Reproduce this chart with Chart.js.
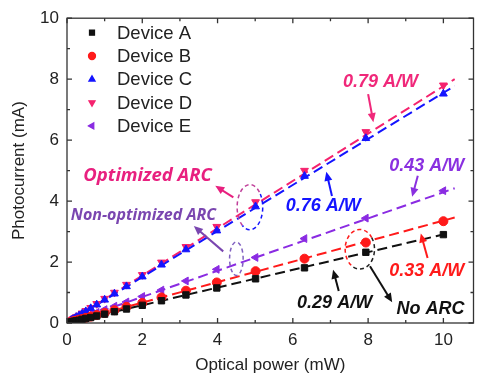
<!DOCTYPE html>
<html>
<head>
<meta charset="utf-8">
<script src="https://cdn.jsdelivr.net/npm/chart.js@4.4.0/dist/chart.umd.min.js"></script>
<style>
  html, body { margin: 0; padding: 0; background: #fff; }
</style>
</head>
<body>
<canvas id="chart" width="479" height="383"></canvas>
<script>
// measured optical powers (mW), log spaced
const powerMW = [0.1, 0.13, 0.16, 0.2, 0.25, 0.32, 0.4, 0.5, 0.63, 0.79, 1.0, 1.26, 1.58, 2.0, 2.51, 3.16, 3.98, 5.01, 6.31, 7.94, 10];

// photocurrent (mA) per device
const deviceA = [0.03, 0.04, 0.05, 0.06, 0.07, 0.09, 0.12, 0.15, 0.18, 0.23, 0.29, 0.37, 0.46, 0.58, 0.73, 0.92, 1.15, 1.45, 1.81, 2.32, 2.90];
const deviceB = [0.03, 0.04, 0.05, 0.07, 0.08, 0.11, 0.13, 0.17, 0.21, 0.26, 0.33, 0.42, 0.53, 0.66, 0.84, 1.06, 1.33, 1.70, 2.11, 2.64, 3.34];
const deviceC = [0.08, 0.10, 0.12, 0.15, 0.19, 0.24, 0.30, 0.38, 0.48, 0.60, 0.76, 0.96, 1.20, 1.52, 1.91, 2.41, 3.03, 3.82, 4.82, 6.06, 7.52];
const deviceD = [0.08, 0.10, 0.13, 0.16, 0.20, 0.25, 0.32, 0.40, 0.50, 0.63, 0.80, 1.00, 1.26, 1.58, 1.99, 2.50, 3.16, 3.97, 5.00, 6.27, 7.80];
const deviceE = [0.04, 0.06, 0.07, 0.09, 0.11, 0.14, 0.18, 0.22, 0.27, 0.35, 0.44, 0.55, 0.69, 0.87, 1.08, 1.38, 1.76, 2.15, 2.77, 3.44, 4.34];

// linear fits (end points)
const fitPower = [0.1, 10.3];
const fitPowerA = [0.1, 10.05];
const fitA = [0.03, 2.92];
const fitB = [0.03, 3.46];
const fitC = [0.07, 7.78];
const fitD = [0.08, 8.0];
const fitE = [0.04, 4.42];

const labels = ["Device A", "Device B", "Device C", "Device D", "Device E"];
const xTicks = [0, 2, 4, 6, 8, 10];
const yTicks = [0, 2, 4, 6, 8, 10];

const colA = "#111111", colB = "#ff1a1a", colC = "#1414ff", colD = "#f5226e", colE = "#8a2be2";
const FONT = "'Liberation Sans', Arial, sans-serif";
const NOTE = "'Open Sans', sans-serif";

function pts(xs, ys) { return xs.map((x, i) => ({ x: x, y: ys[i] })); }

function markerSet(label, ys, color, style, rot) {
    return {
        label: label, data: pts(powerMW, ys), showLine: false,
        pointStyle: style, rotation: rot, pointRadius: 4.5, pointHoverRadius: 4.5,
        backgroundColor: color, borderColor: color, borderWidth: 1, order: 1
    };
}
function fitSet(xs, ys, color) {
    return {
        label: "fit", data: pts(xs, ys), showLine: true, pointRadius: 0,
        borderColor: color, borderWidth: 2, borderDash: [10, 5], fill: false, order: 2
    };
}

const markers = [
    markerSet(labels[0], deviceA, colA, "rect", 0),
    markerSet(labels[1], deviceB, colB, "circle", 0),
    markerSet(labels[2], deviceC, colC, "triangle", 0),
    markerSet(labels[3], deviceD, colD, "triangle", 180),
    markerSet(labels[4], deviceE, colE, "triangle", -90)
];
const fits = [
    fitSet(fitPowerA, fitA, colA),
    fitSet(fitPower, fitB, colB),
    fitSet(fitPower, fitE, colE),
    fitSet(fitPower, fitC, colC),
    fitSet(fitPower, fitD, colD)
];

// annotations in data units
const notes = [
    { t: "0.79 A/W", x: 8.33, y: 7.92, c: "#f0287a", f: "italic bold 18px " + FONT },
    { t: "Optimized ARC", x: 2.14, y: 4.84, c: "#e8207f", f: "italic bold 18.5px " + NOTE },
    { t: "Non-optimized ARC", x: 2.03, y: 3.54, c: "#7a46b0", f: "italic bold 16px " + NOTE },
    { t: "0.76 A/W", x: 6.81, y: 3.85, c: "#1414ff", f: "italic bold 18px " + FONT },
    { t: "0.43 A/W", x: 9.56, y: 5.15, c: "#8a30e0", f: "italic bold 18px " + FONT },
    { t: "0.33 A/W", x: 9.56, y: 1.72, c: "#ff1a1a", f: "italic bold 18px " + FONT },
    { t: "0.29 A/W", x: 7.11, y: 0.67, c: "#111111", f: "italic bold 18px " + FONT },
    { t: "No ARC", x: 9.66, y: 0.47, c: "#111111", f: "italic bold 18px " + FONT }
];
const arrows = [
    { x0: 8.0, y0: 7.51, x1: 8.14, y1: 6.59, c: "#f0287a" },
    { x0: 4.42, y0: 4.12, x1: 3.94, y1: 4.50, c: "#e8207f" },
    { x0: 4.15, y0: 2.35, x1: 3.37, y1: 3.18, c: "#7a46b0" },
    { x0: 7.04, y0: 4.17, x1: 6.89, y1: 4.96, c: "#1414ff" },
    { x0: 9.32, y0: 4.83, x1: 9.17, y1: 4.14, c: "#8a30e0" },
    { x0: 9.58, y0: 2.13, x1: 9.40, y1: 2.94, c: "#ff1a1a" },
    { x0: 7.22, y0: 1.05, x1: 7.07, y1: 1.75, c: "#111111" },
    { x0: 8.05, y0: 1.86, x1: 8.64, y1: 0.68, c: "#111111" }
];
// dashed ellipses: centre, radii in data units, two colours (upper-left arc, lower-right arc)
const rings = [
    { x: 4.86, y: 3.80, rx: 0.34, ry: 0.74, c1: "#c0409a", c2: "#1414ff" },
    { x: 4.50, y: 2.11, rx: 0.18, ry: 0.55, c1: "#8060c0", c2: "#8060c0" },
    { x: 7.78, y: 2.42, rx: 0.39, ry: 0.65, c1: "#ff1a1a", c2: "#222222" }
];

const overlay = {
    id: "overlay",
    afterDatasetsDraw(chart) {
        const ctx = chart.ctx, xs = chart.scales.x, ys = chart.scales.y;
        ctx.save();
        // rings
        ctx.lineWidth = 1.5;
        ctx.setLineDash([4, 3]);
        rings.forEach(r => {
            const cx = xs.getPixelForValue(r.x), cy = ys.getPixelForValue(r.y);
            const rx = xs.getPixelForValue(r.x + r.rx) - cx, ry = cy - ys.getPixelForValue(r.y + r.ry);
            ctx.strokeStyle = r.c1;
            ctx.beginPath(); ctx.ellipse(cx, cy, rx, ry, 0, Math.PI * 0.7, Math.PI * 1.8); ctx.stroke();
            ctx.strokeStyle = r.c2;
            ctx.beginPath(); ctx.ellipse(cx, cy, rx, ry, 0, -Math.PI * 0.2, Math.PI * 0.7); ctx.stroke();
        });
        ctx.setLineDash([]);
        // arrows
        arrows.forEach(a => {
            const x0 = xs.getPixelForValue(a.x0), y0 = ys.getPixelForValue(a.y0);
            const x1 = xs.getPixelForValue(a.x1), y1 = ys.getPixelForValue(a.y1);
            const ang = Math.atan2(y1 - y0, x1 - x0);
            ctx.strokeStyle = a.c; ctx.fillStyle = a.c; ctx.lineWidth = 2;
            ctx.beginPath(); ctx.moveTo(x0, y0);
            ctx.lineTo(x1 - 6 * Math.cos(ang), y1 - 6 * Math.sin(ang)); ctx.stroke();
            ctx.beginPath();
            ctx.moveTo(x1, y1);
            ctx.lineTo(x1 - 9 * Math.cos(ang) + 4 * Math.sin(ang), y1 - 9 * Math.sin(ang) - 4 * Math.cos(ang));
            ctx.lineTo(x1 - 9 * Math.cos(ang) - 4 * Math.sin(ang), y1 - 9 * Math.sin(ang) + 4 * Math.cos(ang));
            ctx.closePath(); ctx.fill();
        });
        // texts
        ctx.textAlign = "center"; ctx.textBaseline = "middle";
        notes.forEach(n => {
            ctx.font = n.f; ctx.fillStyle = n.c;
            ctx.fillText(n.t, xs.getPixelForValue(n.x), ys.getPixelForValue(n.y));
        });
        ctx.restore();
    },
    afterDraw(chart) {
        const ctx = chart.ctx, xs = chart.scales.x, ys = chart.scales.y, a = chart.chartArea;
        ctx.save();
        // frame
        ctx.strokeStyle = "#333"; ctx.lineWidth = 1.3;
        ctx.strokeRect(a.left, a.top, a.right - a.left, a.bottom - a.top);
        for (let v = 0; v <= 10; v++) {
            const len = v % 2 === 0 ? 5 : 3;
            const px = xs.getPixelForValue(v), py = ys.getPixelForValue(v);
            ctx.beginPath();
            ctx.moveTo(px, a.bottom); ctx.lineTo(px, a.bottom - len);
            ctx.moveTo(px, a.top); ctx.lineTo(px, a.top + len);
            ctx.moveTo(a.left, py); ctx.lineTo(a.left + len, py);
            ctx.moveTo(a.right, py); ctx.lineTo(a.right - len, py);
            ctx.stroke();
        }
        // legend
        ctx.textAlign = "left"; ctx.textBaseline = "middle";
        ctx.font = "18.5px " + FONT;
        markers.forEach((d, i) => {
            const y = 32.7 + i * 23.3;
            ctx.fillStyle = d.backgroundColor; ctx.strokeStyle = d.borderColor;
            Chart.helpers.drawPoint(ctx, { pointStyle: d.pointStyle, rotation: d.rotation, radius: 3.5, borderWidth: 1 }, 92, y);
            ctx.fillStyle = "#222";
            ctx.fillText(d.label, 117, y + 1);
        });
        ctx.restore();
    }
};

new Chart(document.getElementById("chart"), {
    type: "scatter",
    data: { datasets: markers.concat(fits) },
    options: {
        responsive: false,
        animation: false,
        layout: { padding: { top: 14, right: 1, left: 0, bottom: 0 } },
        plugins: { legend: { display: false }, tooltip: { enabled: false } },
        scales: {
            x: {
                type: "linear", min: 0, max: 10.8,
                afterBuildTicks: s => { s.ticks = xTicks.map(v => ({ value: v })); },
                afterFit: s => { s.height = 60; },
                grid: { display: false, drawTicks: false },
                border: { display: false },
                ticks: { color: "#222", padding: 7, maxRotation: 0, font: { family: FONT, size: 17 } },
                title: { display: true, text: "Optical power (mW)", color: "#222", padding: { top: 0, bottom: 7 }, font: { family: FONT, size: 17 } }
            },
            y: {
                type: "linear", min: 0, max: 10,
                afterBuildTicks: s => { s.ticks = yTicks.map(v => ({ value: v })); },
                afterFit: s => { s.width = 67; },
                grid: { display: false, drawTicks: false },
                border: { display: false },
                ticks: { color: "#222", padding: 8, font: { family: FONT, size: 17 } },
                title: { display: true, text: "Photocurrent (mA)", color: "#222", padding: { top: 9, bottom: 0 }, font: { family: FONT, size: 17 } }
            }
        }
    },
    plugins: [overlay]
});
</script>
</body>
</html>
